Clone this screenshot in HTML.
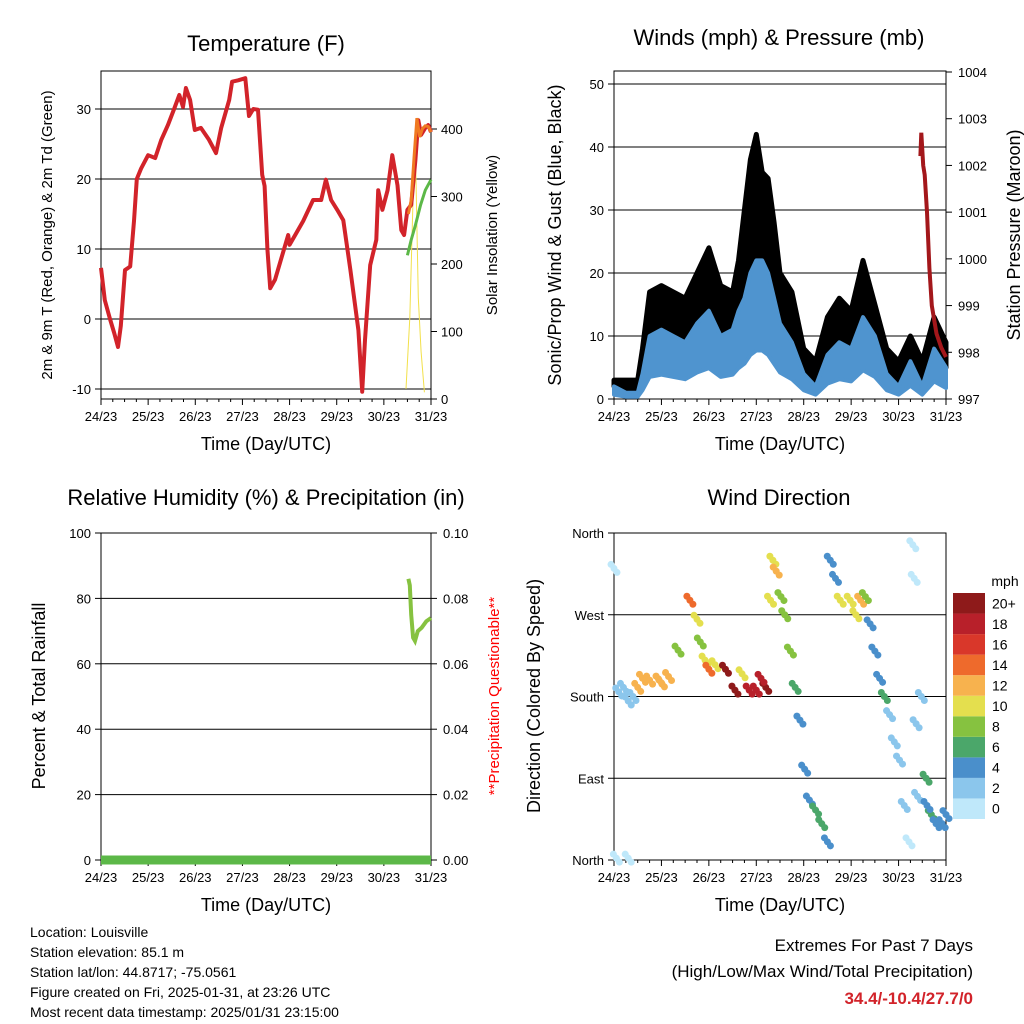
<!DOCTYPE html>
<html><head><meta charset="utf-8"><style>
html,body{margin:0;padding:0;background:#fff;}
svg{display:block;font-family:"Liberation Sans",sans-serif;}
</style></head><body>
<svg id="s" width="1024" height="1024" viewBox="0 0 1024 1024">
<g id="info" font-size="14" fill="#000">
<text x="30" y="937">Location: Louisville</text>
<text x="30" y="957">Station elevation: 85.1 m</text>
<text x="30" y="977">Station lat/lon: 44.8717; -75.0561</text>
<text x="30" y="997">Figure created on Fri, 2025-01-31, at 23:26 UTC</text>
<text x="30" y="1017">Most recent data timestamp: 2025/01/31 23:15:00</text>
</g>
<g>
<text x="973" y="951" font-size="17" text-anchor="end">Extremes For Past 7 Days</text>
<text x="973" y="977" font-size="17" text-anchor="end">(High/Low/Max Wind/Total Precipitation)</text>
<text x="973" y="1004" font-size="17" text-anchor="end" font-weight="bold" fill="#d2232a">34.4/-10.4/27.7/0</text>
</g>
</svg>
<script>
// ---- data ----
const dayLabels=["24/23","25/23","26/23","27/23","28/23","29/23","30/23","31/23"];
const tempT=[0,0.08,0.19,0.28,0.36,0.42,0.51,0.62,0.70,0.76,0.85,1.0,1.15,1.28,1.42,1.55,1.66,1.74,1.80,1.89,1.99,2.12,2.29,2.44,2.55,2.72,2.78,2.91,3.06,3.14,3.23,3.33,3.42,3.47,3.53,3.59,3.69,3.97,4.0,4.12,4.29,4.5,4.67,4.77,4.88,5.01,5.14,5.29,5.46,5.54,5.60,5.71,5.84,5.88,5.97,6.08,6.18,6.29,6.37,6.43,6.50,6.58,6.67,6.73,6.79,6.88,6.94,7.0];
const tempV=[7.3,2.7,0,-2,-4,-1,7,7.5,14,20,21.5,23.4,23,25.6,27.7,30,32,30.3,33,31.3,27,27.3,25.6,23.7,27.3,31.3,33.9,34.1,34.4,29,30,29.9,20.6,19,10,4.4,5.6,12,10.6,12,14,17,17,19.9,17,15.6,14.1,7,-1.6,-10.4,-3,7.7,11.3,18.4,15.6,18.4,23.4,19.1,12.7,12,15.6,16.3,22.7,28.4,26.3,27.3,27.7,26.7];
const orangeT=[6.52,6.58,6.64,6.70,6.76,6.82,6.88,6.94,7.0];
const orangeV=[15,17,23,28.7,26,27.2,27.6,27.5,26.7];
const dewT=[6.5,6.58,6.67,6.78,6.88,7.0];
const dewV=[9.1,11.3,13.4,16.3,18.4,19.9];
const solarT=[6.47,6.55,6.62,6.67,6.73,6.79,6.86];
const solarV=[15,120,300,370,150,70,10];
const windT=[0,0.25,0.5,0.6,0.75,1.0,1.25,1.5,1.75,2.0,2.25,2.5,2.625,2.75,2.875,3.0,3.125,3.25,3.375,3.5,3.75,4.0,4.25,4.5,4.75,5.0,5.25,5.5,5.75,6.0,6.25,6.5,6.75,7.0];
const gustV=[3,3,3,8,17,18,17,16,20,24,18,17,22,30,38,42,36,35,28,20,17,8,6,13,16,14,22,15,8,6,10,6,13,9];
const sustV=[2,1,1,4,10,11,10,9,12,14,10,11,14,16,20,22,22,20,16,12,9,4,2,7,9,8,13,10,4,2,6,2,8,5];
const presT=[6.46,6.48,6.52,6.55,6.6,6.65,6.7,6.8,6.9,7.0];
const presV=[1002.2,1002.7,1002.0,1001.8,1001,999.8,999,998.4,998.1,997.9];
const rhT=[6.52,6.55,6.58,6.62,6.66,6.72,6.8,6.9,7.0];
const rhV=[86,84,75,68,67,70,71,73,74];
const dirT=[0,0.05,0.1,0.2,0.3,0.4,0.5,0.6,0.75,0.95,1.15,1.35,1.6,1.75,1.82,1.92,2.13,2.35,2.55,2.85,3.0,3.2,3.3,3.35,3.42,3.52,3.6,3.72,3.82,3.92,4.02,4.12,4.25,4.38,4.5,4.56,4.67,4.77,4.98,5.2,5.3,5.4,5.5,5.6,5.7,5.81,5.91,6.02,6.12,6.22,6.3,6.33,6.37,6.48,6.58,6.69,6.79,6.92,7.0,0.3,1.0,2.0,2.7,3.1,5.1,6.4,6.6];
const dirV=[321,2,185,190,175,180,190,200,198,198,202,231,286,265,240,220,215,210,187,187,187,190,286,330,318,290,270,230,190,154,100,66,55,40,20,330,310,286,286,286,290,260,230,200,180,160,130,110,60,20,347,310,150,180,90,50,40,40,50,2,195,210,205,200,270,70,60];
const dirS=[1,0,2,3,2,3,13,13,12,12,13,8,15,10,8,10,10,20,20,19,19,20,10,10,12,8,8,8,6,4,4,4,6,7,4,4,4,11,10,12,8,4,4,4,6,3,2,2,2,1,1,1,2,3,6,6,4,4,4,0,12,14,10,18,11,2,5];
const cbLabels=["0","2","4","6","8","10","12","14","16","18","20+"];
const cbColors=["#bfe8fa","#8bc6ec","#4a8fcb","#4ba76a","#86c240","#e4df4e","#f7b24e","#ee6a2c","#d9372a","#b8202a","#8e1a1a"];

// ---- helpers ----
const S=document.getElementById('s');const NS='http://www.w3.org/2000/svg';
function mk(tag,at,parent){const e=document.createElementNS(NS,tag);for(const k in at)e.setAttribute(k,at[k]);(parent||S).appendChild(e);return e;}
function txt(x,y,s,size,anchor,parent,extra){const e=mk('text',Object.assign({x:x,y:y,'font-size':size,'text-anchor':anchor||'middle'},extra||{}),parent);e.textContent=s;return e;}
function lin(d0,d1,r0,r1){return v=>r0+(v-d0)*(r1-r0)/(d1-d0);}
function panel(name,x0,x1,y0,y1){const g=mk('g',{});
 mk('rect',{x:x0,y:y0,width:x1-x0,height:y1-y0,fill:'none',stroke:'#000','stroke-width':1},g);return g;}
function xAxis(g,x0,x1,y1,xs){dayLabels.forEach((l,i)=>{const x=xs(i);mk('line',{x1:x,x2:x,y1:y1,y2:y1+6,stroke:'#000'},g);
 for(let k=1;k<4&&i<7;k++){const xm=xs(i+k/4);mk('line',{x1:xm,x2:xm,y1:y1,y2:y1+3,stroke:'#000'},g);}
 const t=txt(x,y1+22,l,13,'middle',g);});
 const a=txt((x0+x1)/2,y1+51,'Time (Day/UTC)',18,'middle',g);}
function path(pts){return pts.map((p,i)=>(i?'L':'M')+p[0].toFixed(1)+','+p[1].toFixed(1)).join('');}

// ---- Panel 1 Temperature ----
{const x0=101,x1=431,y0=71,y1=399;const g=panel('temperature-panel',x0,x1,y0,y1);
 const xs=lin(0,7,x0,x1),ys=lin(0,30,319,109),ss=lin(0,400,399,129);
 [-10,0,10,20,30].forEach(v=>{const y=ys(v);mk('line',{x1:x0,x2:x1,y1:y,y2:y,stroke:'#000'},g);mk('line',{x1:x0-6,x2:x0,y1:y,y2:y,stroke:'#000'},g);
  const t=txt(x0-10,y+5,String(v),13,'end',g);});
 [0,100,200,300,400].forEach(v=>{const y=ss(v);mk('line',{x1:x1,x2:x1+6,y1:y,y2:y,stroke:'#000'},g);
  const t=txt(x1+10,y+5,String(v),13,'start',g);});
 xAxis(g,x0,x1,y1,xs);
 const ti=txt(266,51,'Temperature (F)',22,'middle',g);
 const yt=txt(0,0,'2m & 9m T (Red, Orange) & 2m Td (Green)',15,'middle',g,{transform:'translate(52,235) rotate(-90)'});
 const y2=txt(0,0,'Solar Insolation (Yellow)',15,'middle',g,{transform:'translate(497,235) rotate(-90)'});
 const sl=mk('path',{d:path(solarT.map((t,i)=>[xs(t),ss(solarV[i])])),fill:'none',stroke:'#f2e04a','stroke-width':1},g);
 const tl=mk('path',{d:path(tempT.map((t,i)=>[xs(t),ys(tempV[i])])),fill:'none',stroke:'#d2232a','stroke-width':4,'stroke-linejoin':'round'},g);
 const ol=mk('path',{d:path(orangeT.map((t,i)=>[xs(t),ys(orangeV[i])])),fill:'none',stroke:'#f07a22','stroke-width':3},g);
 const dl=mk('path',{d:path(dewT.map((t,i)=>[xs(t),ys(dewV[i])])),fill:'none',stroke:'#5cb848','stroke-width':3},g);
}
// ---- Panel 2 Winds ----
{const x0=614,x1=946,y0=71,y1=399;const g=panel('winds-panel',x0,x1,y0,y1);
 const xs=lin(0,7,x0,x1),ys=lin(0,50,399,84),ps=lin(997,1004,399,72);
 [0,10,20,30,40,50].forEach(v=>{const y=ys(v);if(v>0)mk('line',{x1:x0,x2:x1,y1:y,y2:y,stroke:'#000'},g);mk('line',{x1:x0-6,x2:x0,y1:y,y2:y,stroke:'#000'},g);
  const t=txt(x0-10,y+5,String(v),13,'end',g);});
 [997,998,999,1000,1001,1002,1003,1004].forEach(v=>{const y=ps(v);mk('line',{x1:x1,x2:x1+6,y1:y,y2:y,stroke:'#000'},g);
  const t=txt(x1+12,y+5,String(v),13,'start',g);});
 xAxis(g,x0,x1,y1,xs);
 const ti=txt(779,45,'Winds (mph) & Pressure (mb)',22,'middle',g);
 const yt=txt(0,0,'Sonic/Prop Wind & Gust (Blue, Black)',18,'middle',g,{transform:'translate(561,235) rotate(-90)'});
 const y2=txt(0,0,'Station Pressure (Maroon)',18,'middle',g,{transform:'translate(1020,235) rotate(-90)'});
 const top=windT.map((t,i)=>[xs(t),ys(gustV[i])]),mid=windT.map((t,i)=>[xs(t),ys(sustV[i])]),low=windT.map((t,i)=>[xs(t),ys(sustV[i]*0.35)]);
 const ga=mk('path',{d:path(top.concat(mid.slice().reverse()))+'Z',fill:'#000',stroke:'#000','stroke-width':5,'stroke-linejoin':'round'},g);
 const sa=mk('path',{d:path(mid.concat(low.slice().reverse()))+'Z',fill:'#4f94cf',stroke:'#4f94cf','stroke-width':4,'stroke-linejoin':'round'},g);
 const pl=mk('path',{d:path(presT.map((t,i)=>[xs(t),ps(presV[i])])),fill:'none',stroke:'#a3171b','stroke-width':4},g);
}
// ---- Panel 3 RH ----
{const x0=101,x1=431,y0=533,y1=860;const g=panel('humidity-panel',x0,x1,y0,y1);
 const xs=lin(0,7,x0,x1),ys=lin(0,100,860,533),ps=lin(0,0.1,860,533);
 [0,20,40,60,80,100].forEach(v=>{const y=ys(v);if(v>0&&v<100)mk('line',{x1:x0,x2:x1,y1:y,y2:y,stroke:'#000'},g);mk('line',{x1:x0-6,x2:x0,y1:y,y2:y,stroke:'#000'},g);
  const t=txt(x0-10,y+5,String(v),13,'end',g);});
 [0,0.02,0.04,0.06,0.08,0.1].forEach(v=>{const y=ps(v);mk('line',{x1:x1,x2:x1+6,y1:y,y2:y,stroke:'#000'},g);
  const t=txt(x1+12,y+5,v.toFixed(2),13,'start',g);});
 xAxis(g,x0,x1,y1,xs);
 const ti=txt(266,505,'Relative Humidity (%) & Precipitation (in)',22,'middle',g);
 const yt=txt(0,0,'Percent & Total Rainfall',18,'middle',g,{transform:'translate(45,696) rotate(-90)'});
 const y2=txt(0,0,'**Precipitation Questionable**',15,'middle',g,{transform:'translate(499,696) rotate(-90)',fill:'#ff0000'});
 const pr=mk('line',{x1:x0,x2:x1,y1:ps(0),y2:ps(0),stroke:'#5cb848','stroke-width':9},g);
 const rl=mk('path',{d:path(rhT.map((t,i)=>[xs(t),ys(rhV[i])])),fill:'none',stroke:'#86c240','stroke-width':4},g);
}
// ---- Panel 4 Wind direction ----
{const x0=614,x1=946,y0=533,y1=860;const g=panel('wind-direction-panel',x0,x1,y0,y1);
 const xs=lin(0,7,x0,x1),ys=lin(0,360,860,533);
 ['North','East','South','West','North'].forEach((l,i)=>{const y=ys(i*90);if(i>0&&i<4)mk('line',{x1:x0,x2:x1,y1:y,y2:y,stroke:'#000'},g);mk('line',{x1:x0-6,x2:x0,y1:y,y2:y,stroke:'#000'},g);
  const t=txt(x0-10,y+5,l,13,'end',g);});
 xAxis(g,x0,x1,y1,xs);
 const ti=txt(779,505,'Wind Direction',22,'middle',g);
 const yt=txt(0,0,'Direction (Colored By Speed)',18,'middle',g,{transform:'translate(540,696) rotate(-90)'});
 dirT.forEach((t,i)=>{const idx=Math.min(10,Math.floor(dirS[i]/2));
  for(let k=-1;k<=1;k++){const c=mk('circle',{cx:xs(t)+k*3,cy:ys(dirV[i])+k*4,r:3.5,fill:cbColors[idx]},g);
  
  }});
 const cb=mk('g',{},g);
 txt(1005,586,'mph',14,'middle',cb);
 const bh=(819-593)/11;
 cbColors.forEach((c,i)=>{const y=819-(i+1)*bh;mk('rect',{x:953,y:y,width:32,height:bh,fill:c},cb);
  const t=txt(992,y+bh/2+5,cbLabels[i],14,'start',cb);});
}
</script>
</body></html>
